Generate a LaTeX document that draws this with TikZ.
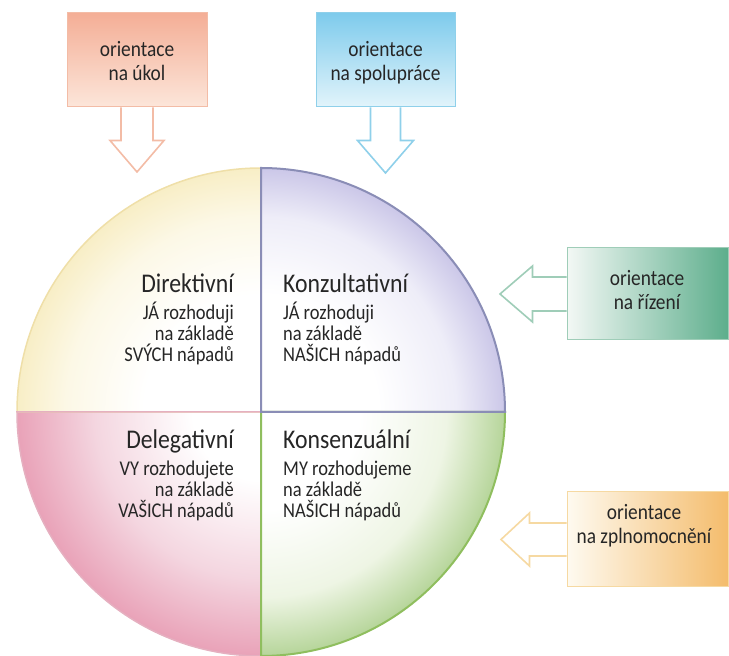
\documentclass[tikz,border=0pt]{standalone}
\usepackage{fontspec}
\setmainfont{Carlito}
\newfontfamily\condfont[FakeStretch=0.88]{Carlito}
\usetikzlibrary{calc}
\definecolor{txt}{HTML}{262626}
\definecolor{qTL}{HTML}{F8EEC6}
\definecolor{qTLm}{HTML}{FCF8E6}
\definecolor{qTR}{HTML}{CBC7E8}
\definecolor{qTRm}{HTML}{EEEDF8}
\definecolor{qBL}{HTML}{E9A2B8}
\definecolor{qBLm}{HTML}{F4D6E0}
\definecolor{qBR}{HTML}{B6D59A}
\definecolor{qBRm}{HTML}{EEF5E4}
\definecolor{bTL}{HTML}{EFDFA8}
\definecolor{bTR}{HTML}{8A8DB6}
\definecolor{bBL}{HTML}{E5B0C0}
\definecolor{bBR}{HTML}{8FBE5E}
\definecolor{salmonA}{HTML}{F4AE96}
\definecolor{salmonB}{HTML}{FCE6DA}
\definecolor{salmonL}{HTML}{F3BCA6}
\definecolor{blueA}{HTML}{7ECBEC}
\definecolor{blueB}{HTML}{E2F4FB}
\definecolor{blueL}{HTML}{8FD0EA}
\definecolor{greenA}{HTML}{F3F8F5}
\definecolor{greenB}{HTML}{5DAE8C}
\definecolor{greenL}{HTML}{9FCDB8}
\definecolor{orA}{HTML}{FEFAF0}
\definecolor{orB}{HTML}{F4BC6C}
\definecolor{orL}{HTML}{F6D9A2}
\pgfdeclareradialshading{shTL}{\pgfpoint{0bp}{0bp}}{color(0bp)=(white); color(12bp)=(white); color(20bp)=(qTLm); color(25bp)=(qTL); color(50bp)=(qTL)}
\pgfdeclareradialshading{shTR}{\pgfpoint{0bp}{0bp}}{color(0bp)=(white); color(12bp)=(white); color(20bp)=(qTRm); color(25bp)=(qTR); color(50bp)=(qTR)}
\pgfdeclareradialshading{shBL}{\pgfpoint{0bp}{0bp}}{color(0bp)=(white); color(7bp)=(white); color(17bp)=(qBLm); color(25bp)=(qBL); color(50bp)=(qBL)}
\pgfdeclareradialshading{shBR}{\pgfpoint{0bp}{0bp}}{color(0bp)=(white); color(10bp)=(white); color(19bp)=(qBRm); color(25bp)=(qBR); color(50bp)=(qBR)}
\begin{document}
\begin{tikzpicture}[x=1pt,y=1pt,
  qtitle/.style={font=\condfont\fontsize{27}{30}\selectfont, inner sep=0pt, text=txt},
  qbody/.style={font=\condfont\fontsize{21}{21}\selectfont, inner sep=0pt, text=txt},
  btext/.style={font=\condfont\fontsize{22}{24}\selectfont, inner sep=0pt, text=txt, align=center, anchor=base},
  orbox/.style={draw, line width=1pt, minimum width=#1, inner sep=0pt},
  blockarrow/.style={draw=#1, line width=1.6pt, fill=white, line join=miter}
]
\useasboundingbox (0,0) rectangle (729,656);
\coordinate (C) at (261,244);
% quadrants
\begin{scope}
  \clip (C) -- ++(-244,0) arc[start angle=180,end angle=90,radius=244pt] -- cycle;
  \shade[shading=shTL] (C) circle[radius=244pt];
\end{scope}
\begin{scope}
  \clip (C) -- ++(-244,0) arc[start angle=180,end angle=270,radius=244pt] -- cycle;
  \shade[shading=shBL] (C) circle[radius=244pt];
\end{scope}
\begin{scope}
  \clip (C) -- ++(0,244) arc[start angle=90,end angle=0,radius=244pt] -- cycle;
  \shade[shading=shTR] (C) circle[radius=244pt];
\end{scope}
\begin{scope}
  \clip (C) -- ++(244,0) arc[start angle=0,end angle=-90,radius=244pt] -- cycle;
  \shade[shading=shBR] (C) circle[radius=244pt];
\end{scope}
\draw[bTL, line width=1.5pt] (C) -- ++(-244,0) arc[start angle=180,end angle=90,radius=244pt] -- cycle;
\draw[bBL, line width=1.5pt] (C) -- ++(-244,0) arc[start angle=180,end angle=270,radius=244pt] -- cycle;
\draw[bBR, line width=2pt] (C) -- ++(244,0) arc[start angle=0,end angle=-90,radius=244pt] -- cycle;
\draw[bTR, line width=2pt] (C) -- ++(0,244) arc[start angle=90,end angle=0,radius=244pt] -- cycle;
% quadrant texts (base anchor = baseline of last line)
\node[qtitle, anchor=base east] (t1) at (234,363) {Direktivní};
\node[qbody, anchor=base east, align=right] (d1) at (234,294) {JÁ rozhoduji\\na základě\\SVÝCH nápadů};
\node[qtitle, anchor=base west] (t2) at (283,363) {Konzultativní};
\node[qbody, anchor=base west, align=left] (d2) at (283,294) {JÁ rozhoduji\\na základě\\NAŠICH nápadů};
\node[qtitle, anchor=base east] (t3) at (234,207) {Delegativní};
\node[qbody, anchor=base east, align=right] (d3) at (234,138) {VY rozhodujete\\na základě\\VAŠICH nápadů};
\node[qtitle, anchor=base west] (t4) at (283,207) {Konsenzuální};
\node[qbody, anchor=base west, align=left] (d4) at (283,138) {MY rozhodujeme\\na základě\\NAŠICH nápadů};
% boxes
\node[orbox=140pt, minimum height=94pt, draw=salmonL, top color=salmonA, bottom color=salmonB] (ukb) at (137,596) {};
\node[orbox=139pt, minimum height=94pt, draw=blueL, top color=blueA, bottom color=blueB] (spb) at (385.5,596) {};
\node[orbox=161pt, minimum height=92pt, draw=greenL, left color=greenA, right color=greenB] (rib) at (647.5,362) {};
\node[orbox=161pt, minimum height=95pt, draw=orL, left color=orA, right color=orB] (zpb) at (647.5,116.5) {};
\node[btext] (ukt) at (137,575) {orientace\\na úkol};
\node[btext] (spt) at (385.5,575) {orientace\\na spolupráce};
\node[btext] (rit) at (647,346) {orientace\\na řízení};
\node[btext] (zpt) at (644,112) {orientace\\na zplnomocnění};
% arrows
\coordinate (ukh) at (137,484);
\coordinate (sph) at (385.5,483);
\coordinate (rih) at (500,362);
\coordinate (zph) at (501,116.5);
\draw[blockarrow=salmonL] ($(ukb.south)+(-16,0)$) -- ++(0,-33) -- ++(-11,0) -- (ukh) -- ($(ukb.south)+(27,-33)$) -- ++(-11,0) -- ($(ukb.south)+(16,0)$);
\draw[blockarrow=blueL] ($(spb.south)+(-15,0)$) -- ++(0,-33) -- ++(-13,0) -- (sph) -- ($(spb.south)+(28,-33)$) -- ++(-13,0) -- ($(spb.south)+(15,0)$);
\draw[blockarrow=greenL] ($(rib.west)+(0,17)$) -- ++(-34,0) -- ++(0,11) -- (rih) -- ($(rib.west)+(-34,-28)$) -- ++(0,11) -- ($(rib.west)+(0,-17)$);
\draw[blockarrow=orL] ($(zpb.west)+(0,16.5)$) -- ++(-37,0) -- ++(0,10) -- (zph) -- ($(zpb.west)+(-37,-26.5)$) -- ++(0,10) -- ($(zpb.west)+(0,-16.5)$);
\end{tikzpicture}
\end{document}
